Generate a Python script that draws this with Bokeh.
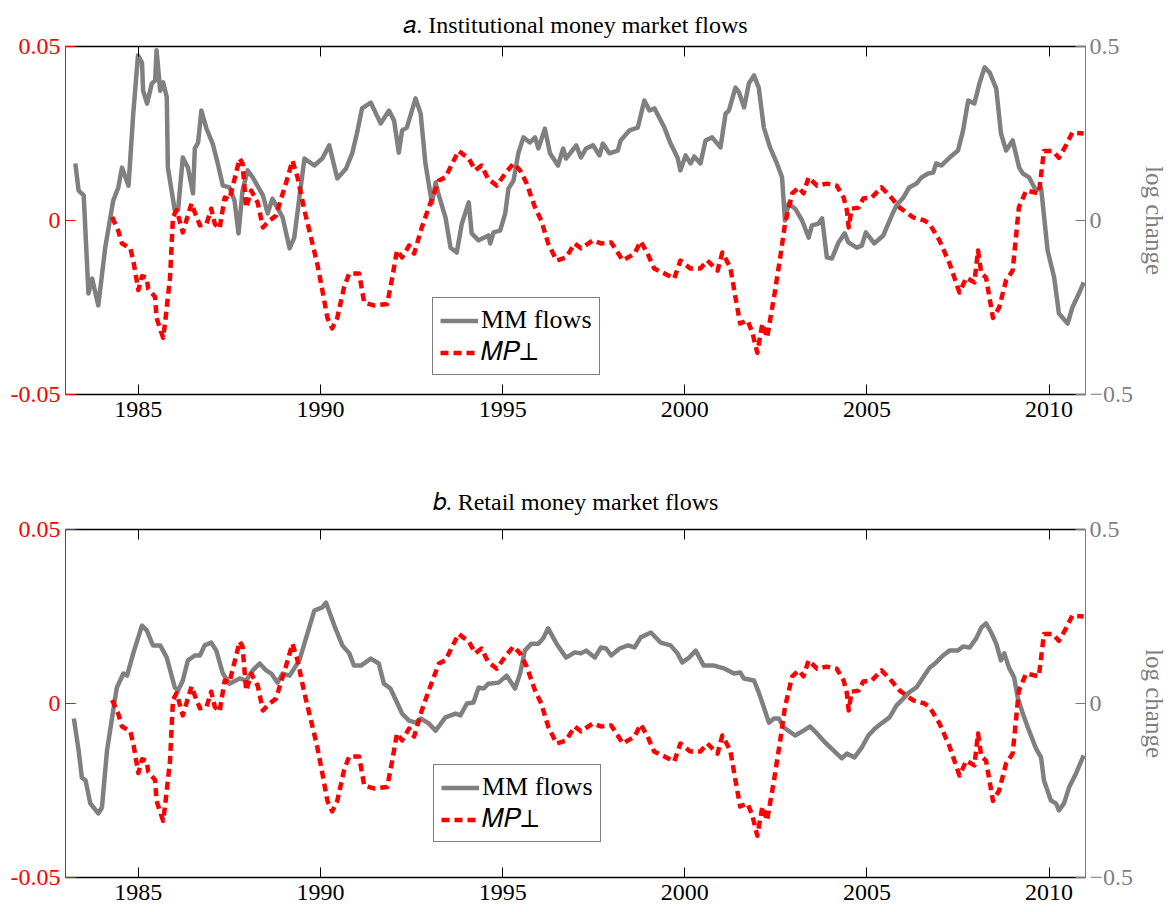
from bokeh.plotting import figure
from bokeh.models import (Range1d, LinearAxis, FixedTicker, Legend, LegendItem, ColumnDataSource)
from bokeh.layouts import column
from bokeh.embed import file_html
from bokeh.resources import INLINE

# ---------------- data ----------------
mp_year = [1984.28, 1984.45, 1984.55, 1984.78, 1984.86, 1985.0, 1985.1, 1985.23, 1985.27, 1985.46,
           1985.5, 1985.68, 1985.73, 1985.87, 1985.95, 1986.05, 1986.22, 1986.46, 1986.55, 1986.69,
           1986.87, 1987.0, 1987.1, 1987.23, 1987.37, 1987.5, 1987.78, 1987.86, 1987.96, 1988.1,
           1988.28, 1988.42, 1988.6, 1988.78, 1988.92, 1989.06, 1989.23, 1989.37, 1989.56, 1989.74,
           1989.91, 1990.05, 1990.19, 1990.32, 1990.46, 1990.65, 1990.79, 1991.06, 1991.2, 1991.47,
           1991.83, 1991.97, 1992.1, 1992.24, 1992.43, 1992.57, 1992.78, 1992.97, 1993.25, 1993.43,
           1993.79, 1994.07, 1994.25, 1994.42, 1994.6, 1994.84, 1995.07, 1995.3, 1995.48, 1995.66,
           1995.89, 1996.06, 1996.25, 1996.48, 1996.74, 1996.98, 1997.15, 1997.48, 1997.7, 1997.98,
           1998.3, 1998.62, 1998.79, 1998.98, 1999.16, 1999.44, 1999.71, 1999.88, 2000.15, 2000.43,
           2000.62, 2000.9, 2001.03, 2001.25, 2001.39, 2001.52, 2001.72, 2001.85, 2001.99, 2002.13,
           2002.26, 2002.45, 2002.62, 2002.75, 2002.95, 2003.13, 2003.26, 2003.4, 2003.63, 2003.9,
           2004.17, 2004.36, 2004.45, 2004.5, 2004.58, 2004.77, 2004.9, 2005.13, 2005.4, 2005.62,
           2005.9, 2006.27, 2006.58, 2006.72, 2006.99, 2007.27, 2007.54, 2007.73, 2007.95, 2008.05,
           2008.14, 2008.27, 2008.46, 2008.63, 2008.82, 2009.0, 2009.09, 2009.17, 2009.37, 2009.72,
           2009.86, 2010.1, 2010.27, 2010.46, 2010.64, 2010.95]
mp_perp = [0.001, -0.003, -0.0066, -0.008, -0.0115, -0.020, -0.016, -0.0164, -0.0196, -0.022,
           -0.028, -0.0337, -0.0297, -0.0164, 0.001, 0.003, -0.0034, 0.0049, 0.0023, -0.0014,
           -0.001, 0.0034, -0.001, -0.0023, 0.0066, 0.006, 0.0178, 0.0164, 0.0037, 0.0086,
           0.005, -0.002, 0.000, 0.0014, 0.0063, 0.011, 0.0172, 0.0124, 0.0029, -0.0049,
           -0.0124, -0.020, -0.028, -0.031, -0.028, -0.019, -0.0152, -0.0152, -0.0236, -0.0244,
           -0.024, -0.0164, -0.0086, -0.0106, -0.0072, -0.0095, -0.002, 0.0037, 0.0115, 0.0124,
           0.020, 0.0178, 0.0144, 0.0158, 0.012, 0.010, 0.0135, 0.0164, 0.0144, 0.0106,
           0.0037, 0.000, -0.0066, -0.0115, -0.0106, -0.0066, -0.008, -0.0057, -0.0066, -0.0063,
           -0.0115, -0.0095, -0.006, -0.0095, -0.0138, -0.0152, -0.0167, -0.0115, -0.0138, -0.0138,
           -0.0115, -0.0144, -0.0092, -0.0135, -0.022, -0.0296, -0.0287, -0.032, -0.038, -0.0296,
           -0.0336, -0.022, -0.0106, -0.001, 0.0078, 0.0095, 0.0078, 0.0124, 0.010, 0.0106,
           0.010, 0.0066, 0.0029, -0.002, 0.0034, 0.0037, 0.0063, 0.0066, 0.0095, 0.0072,
           0.0037, 0.0009, 0.000, -0.001, -0.0057, -0.0124, -0.0207, -0.0164, -0.0178, -0.0086,
           -0.0152, -0.0164, -0.028, -0.025, -0.0172, -0.0144, -0.0049, 0.0037, 0.0086, 0.0078,
           0.020, 0.020, 0.018, 0.0215, 0.0253, 0.025]

inst_year = [1983.27, 1983.36, 1983.5, 1983.63, 1983.73, 1983.9, 1984.09, 1984.31, 1984.45, 1984.55,
             1984.73, 1984.86, 1984.99, 1985.1, 1985.13, 1985.24, 1985.37, 1985.46, 1985.5, 1985.6,
             1985.68, 1985.78, 1985.81, 1986.0, 1986.09, 1986.22, 1986.36, 1986.5, 1986.55, 1986.64,
             1986.73, 1986.87, 1987.04, 1987.18, 1987.32, 1987.5, 1987.64, 1987.75, 1987.86, 1988.0,
             1988.14, 1988.42, 1988.55, 1988.68, 1988.96, 1989.15, 1989.28, 1989.42, 1989.56, 1989.83,
             1990.05, 1990.24, 1990.46, 1990.7, 1990.87, 1991.0, 1991.14, 1991.38, 1991.65, 1991.88,
             1992.02, 1992.15, 1992.24, 1992.37, 1992.61, 1992.75, 1992.88, 1993.06, 1993.16, 1993.25,
             1993.43, 1993.57, 1993.74, 1993.88, 1994.07, 1994.15, 1994.34, 1994.61, 1994.66, 1994.75,
             1994.93, 1995.07, 1995.16, 1995.3, 1995.43, 1995.57, 1995.75, 1995.89, 1995.98, 1996.16,
             1996.3, 1996.52, 1996.66, 1996.74, 1997.02, 1997.15, 1997.29, 1997.48, 1997.66, 1997.75,
             1997.93, 1998.16, 1998.24, 1998.48, 1998.71, 1998.89, 1999.03, 1999.17, 1999.44, 1999.61,
             1999.8, 1999.88, 2000.02, 2000.16, 2000.26, 2000.43, 2000.57, 2000.75, 2000.98, 2001.12,
             2001.21, 2001.39, 2001.49, 2001.63, 2001.76, 2001.9, 2002.03, 2002.17, 2002.34, 2002.53,
             2002.67, 2002.75, 2002.85, 2003.03, 2003.22, 2003.4, 2003.49, 2003.67, 2003.77, 2003.9,
             2004.04, 2004.22, 2004.39, 2004.49, 2004.72, 2004.86, 2004.97, 2005.2, 2005.45, 2005.68,
             2005.81, 2006.0, 2006.16, 2006.36, 2006.5, 2006.68, 2006.82, 2006.9, 2007.04, 2007.27,
             2007.5, 2007.64, 2007.78, 2007.95, 2008.09, 2008.23, 2008.37, 2008.55, 2008.68, 2008.82,
             2009.0, 2009.18, 2009.28, 2009.45, 2009.64, 2009.78, 2009.96, 2010.14, 2010.27, 2010.51,
             2010.64, 2010.82, 2010.95]
inst_flows = [0.164, 0.086, 0.072, -0.21, -0.167, -0.244, -0.078, 0.057, 0.095, 0.152,
              0.10, 0.307, 0.474, 0.454, 0.373, 0.336, 0.394, 0.402, 0.489, 0.373,
              0.397, 0.354, 0.152, 0.029, 0.029, 0.181, 0.152, 0.078, 0.207, 0.224,
              0.316, 0.264, 0.221, 0.164, 0.10, 0.095, 0.057, -0.037, 0.086, 0.144,
              0.124, 0.072, 0.020, 0.063, 0.009, -0.080, -0.049, 0.066, 0.178, 0.158,
              0.178, 0.216, 0.121, 0.149, 0.193, 0.250, 0.322, 0.339, 0.279, 0.316,
              0.287, 0.195, 0.259, 0.267, 0.351, 0.307, 0.164, 0.049, 0.109, 0.072,
              0.009, -0.078, -0.092, -0.009, 0.052, -0.037, -0.057, -0.043, -0.066, -0.034,
              -0.029, 0.020, 0.092, 0.115, 0.193, 0.239, 0.224, 0.239, 0.207, 0.264,
              0.193, 0.158, 0.207, 0.178, 0.216, 0.181, 0.207, 0.216, 0.187, 0.221,
              0.193, 0.201, 0.230, 0.259, 0.267, 0.345, 0.316, 0.322, 0.267, 0.221,
              0.181, 0.144, 0.187, 0.164, 0.184, 0.164, 0.230, 0.239, 0.210, 0.307,
              0.316, 0.382, 0.368, 0.325, 0.394, 0.417, 0.382, 0.267, 0.210, 0.164,
              0.124, 0.000, 0.049, 0.034, 0.0, -0.049, -0.014, -0.009, 0.006, -0.106,
              -0.109, -0.063, -0.037, -0.063, -0.078, -0.072, -0.034, -0.066, -0.043, 0.014,
              0.043, 0.066, 0.095, 0.106, 0.124, 0.135, 0.138, 0.164, 0.158, 0.181,
              0.201, 0.259, 0.345, 0.336, 0.394, 0.44, 0.425, 0.379, 0.250, 0.201,
              0.230, 0.152, 0.135, 0.124, 0.086, 0.095, -0.086, -0.164, -0.267, -0.296,
              -0.250, -0.210, -0.178]

retail_year = [1983.23, 1983.36, 1983.45, 1983.55, 1983.68, 1983.9, 1984.0, 1984.14, 1984.28, 1984.41,
               1984.59, 1984.69, 1984.86, 1985.1, 1985.23, 1985.4, 1985.6, 1985.78, 1986.0, 1986.09,
               1986.22, 1986.36, 1986.55, 1986.69, 1986.82, 1987.0, 1987.14, 1987.32, 1987.5, 1987.78,
               1987.96, 1988.14, 1988.33, 1988.51, 1988.65, 1988.82, 1988.96, 1989.15, 1989.42, 1989.64,
               1989.83, 1990.05, 1990.15, 1990.38, 1990.6, 1990.79, 1990.92, 1991.11, 1991.38, 1991.6,
               1991.74, 1991.92, 1992.1, 1992.24, 1992.43, 1992.61, 1992.75, 1992.97, 1993.16, 1993.43,
               1993.71, 1993.84, 1994.02, 1994.2, 1994.34, 1994.48, 1994.61, 1994.89, 1995.11, 1995.34,
               1995.48, 1995.61, 1995.79, 1995.98, 1996.11, 1996.25, 1996.48, 1996.74, 1996.98, 1997.15,
               1997.29, 1997.53, 1997.7, 1997.84, 1997.98, 1998.21, 1998.44, 1998.62, 1998.79, 1999.07,
               1999.34, 1999.61, 1999.8, 1999.93, 2000.12, 2000.3, 2000.52, 2000.8, 2001.07, 2001.35,
               2001.52, 2001.62, 2001.9, 2002.03, 2002.17, 2002.31, 2002.45, 2002.58, 2002.72, 2003.03,
               2003.26, 2003.44, 2003.63, 2003.85, 2004.08, 2004.31, 2004.45, 2004.66, 2004.86, 2005.04,
               2005.22, 2005.4, 2005.62, 2005.81, 2005.95, 2006.16, 2006.36, 2006.54, 2006.72, 2006.9,
               2007.09, 2007.27, 2007.5, 2007.64, 2007.82, 2008.0, 2008.14, 2008.27, 2008.41, 2008.55,
               2008.68, 2008.77, 2008.9, 2009.04, 2009.14, 2009.28, 2009.45, 2009.64, 2009.78, 2009.86,
               2010.05, 2010.19, 2010.27, 2010.41, 2010.55, 2010.74, 2010.95]
retail_flows = [-0.043, -0.135, -0.213, -0.221, -0.287, -0.316, -0.299, -0.135, -0.040, 0.046,
                0.086, 0.080, 0.144, 0.224, 0.210, 0.167, 0.167, 0.132, 0.046, 0.037,
                0.066, 0.124, 0.138, 0.138, 0.167, 0.175, 0.152, 0.086, 0.057, 0.072,
                0.066, 0.095, 0.115, 0.095, 0.086, 0.060, 0.086, 0.080, 0.124, 0.201,
                0.267, 0.276, 0.290, 0.224, 0.167, 0.144, 0.109, 0.109, 0.129, 0.115,
                0.057, 0.043, 0.003, -0.029, -0.049, -0.055, -0.043, -0.057, -0.078, -0.040,
                -0.029, -0.034, 0.000, 0.003, 0.046, 0.043, 0.057, 0.060, 0.080, 0.043,
                0.086, 0.152, 0.172, 0.172, 0.187, 0.216, 0.172, 0.132, 0.147, 0.144,
                0.152, 0.132, 0.161, 0.158, 0.138, 0.158, 0.167, 0.161, 0.190, 0.204,
                0.175, 0.167, 0.144, 0.118, 0.132, 0.152, 0.109, 0.109, 0.101, 0.086,
                0.089, 0.072, 0.066, 0.032, -0.011, -0.055, -0.043, -0.043, -0.069, -0.092,
                -0.078, -0.066, -0.086, -0.112, -0.135, -0.158, -0.144, -0.155, -0.126, -0.092,
                -0.072, -0.057, -0.040, -0.006, 0.009, 0.032, 0.046, 0.075, 0.103, 0.118,
                0.138, 0.152, 0.152, 0.164, 0.161, 0.187, 0.218, 0.230, 0.204, 0.172,
                0.124, 0.144, 0.103, 0.075, 0.017, -0.029, -0.078, -0.129, -0.155, -0.221,
                -0.279, -0.287, -0.307, -0.287, -0.241, -0.201, -0.149]

year_ticks = [1985, 1990, 1995, 2000, 2005, 2010]
left_ticks = [-0.05, 0, 0.05]
left_labels = {-0.05: "-0.05", 0: "0", 0.05: "0.05"}
right_ticks = [-0.5, 0, 0.5]
right_labels = {-0.5: "\u22120.5", 0: "0", 0.5: "0.5"}
titles = ["\U0001D44E. Institutional money market flows", "\U0001D44F. Retail money market flows"]
legend_labels = ["MM flows", "\U0001D440\U0001D443\u22A5"]

FONT = "Liberation Serif"
GRAY = "#808080"
RED = "#ff0000"
RAXIS = "#8c7272"


def make_panel(title, flow_year, flow_vals, height, top, bottom, legend_loc, title_standoff):
    p = figure(width=1171, height=height, output_backend="svg", toolbar_location=None,
               x_range=Range1d(1983, 2011), y_range=Range1d(-0.05, 0.05),
               min_border_left=65, min_border_right=82, min_border_top=top,
               min_border_bottom=bottom, x_axis_location=None, y_axis_location=None)
    p.extra_y_ranges = {"mm": Range1d(-0.5, 0.5)}
    p.outline_line_color = None
    p.grid.visible = False
    p.background_fill_color = "white"
    p.border_fill_color = "white"

    p.title.text = title
    p.title.align = "center"
    p.title.text_font = FONT
    p.title.text_font_size = "24px"
    p.title.text_font_style = "normal"
    p.title.text_color = "black"
    p.title.standoff = title_standoff

    # bottom axis
    xb = LinearAxis(ticker=FixedTicker(ticks=year_ticks))
    # top axis (ticks only, no labels)
    xt = LinearAxis(ticker=FixedTicker(ticks=year_ticks))
    for ax in (xb, xt):
        ax.axis_line_color = "black"
        ax.axis_line_width = 1.5
        ax.major_tick_in = 10
        ax.major_tick_out = 0
        ax.major_tick_line_color = "black"
        ax.minor_tick_line_color = None
        ax.major_label_text_font = FONT
        ax.major_label_text_font_size = "24px"
        ax.major_label_text_color = "black"
        ax.major_label_standoff = 7
    xt.major_label_text_color = None
    xt.major_label_text_font_size = "0px"
    xt.major_label_standoff = 0
    p.add_layout(xb, "below")
    p.add_layout(xt, "above")

    yl = LinearAxis(ticker=FixedTicker(ticks=left_ticks), major_label_overrides=left_labels)
    yl.axis_line_color = RED
    yl.major_tick_line_color = RED
    yl.major_tick_in = 10
    yl.major_tick_out = 0
    yl.minor_tick_line_color = None
    yl.major_label_text_color = RED
    yl.major_label_text_font = FONT
    yl.major_label_text_font_size = "24px"
    yl.major_label_standoff = 5
    p.add_layout(yl, "left")

    yr = LinearAxis(y_range_name="mm", ticker=FixedTicker(ticks=right_ticks),
                    major_label_overrides=right_labels, axis_label="log change")
    yr.axis_line_color = RAXIS
    yr.major_tick_line_color = RAXIS
    yr.major_tick_in = 10
    yr.major_tick_out = 0
    yr.minor_tick_line_color = None
    yr.major_label_text_color = GRAY
    yr.major_label_text_font = FONT
    yr.major_label_text_font_size = "24px"
    yr.major_label_standoff = 4
    yr.axis_label_text_color = GRAY
    yr.axis_label_text_font = FONT
    yr.axis_label_text_font_size = "25px"
    yr.axis_label_text_font_style = "normal"
    yr.axis_label_standoff = 5
    p.add_layout(yr, "right")

    flow_src = ColumnDataSource(dict(x=flow_year, y=flow_vals))
    mp_src = ColumnDataSource(dict(x=mp_year, y=mp_perp))
    g = p.line("x", "y", source=flow_src, y_range_name="mm", line_color=GRAY,
               line_width=4.5, line_join="round")
    r = p.line("x", "y", source=mp_src, line_color=RED, line_width=4.5,
               line_dash="8 5", line_join="round")

    leg = Legend(items=[LegendItem(label=legend_labels[0], renderers=[g]),
                        LegendItem(label=legend_labels[1], renderers=[r])],
                 location=legend_loc)
    leg.label_text_font = FONT
    leg.label_text_font_size = "26px"
    leg.label_text_color = "black"
    leg.glyph_width = 38
    leg.glyph_height = 27
    leg.label_height = 27
    leg.label_standoff = 3
    leg.padding = 7
    leg.spacing = 2
    leg.margin = 0
    leg.border_line_color = "black"
    leg.border_line_width = 1.2
    leg.background_fill_color = "white"
    leg.background_fill_alpha = 1.0
    p.add_layout(leg, "center")
    return p


p1 = make_panel(titles[0], inst_year, inst_flows, 455, 45, 61, (367, 19), 18)
p2 = make_panel(titles[1], retail_year, retail_flows, 457, 74, 35, (368, 35), 29)
p = column(p1, p2, spacing=0)

open("out.html", "w").write(file_html(p, INLINE))
